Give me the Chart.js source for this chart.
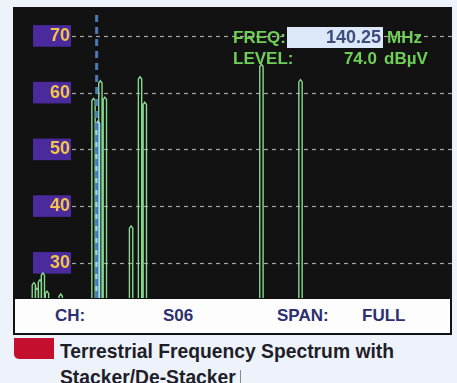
<!DOCTYPE html>
<html>
<head>
<meta charset="utf-8">
<script src="https://cdn.jsdelivr.net/npm/chart.js@4.4.1/dist/chart.umd.min.js"></script>
<style>
  body { margin: 0; width: 457px; height: 383px; overflow: hidden; background: #eef2fb;
         font-family: "Liberation Sans", Arial, sans-serif; position: relative; }
  #screen { position: absolute; left: 13px; top: 7px; width: 439px; height: 328px; background: #121212; }
  #spec { position: absolute; left: 13px; top: 7px; }
  .t { position: absolute; font-weight: bold; white-space: nowrap; }
  .g { color: #6fcf58; font-size: 17px; }
  #bar { position: absolute; left: 15px; top: 299px; width: 435px; height: 34px; background: #fdfdfd; }
  #bar .t { color: #2d2f70; font-size: 17px; line-height: 34px; top: 0; }
  #freqBox { position: absolute; left: 287px; top: 27px; width: 96px; height: 21px; background: #dce7f8; }
  #red { position: absolute; left: 14px; top: 338px; width: 40px; height: 21px; background: #c50f2f;
         border-bottom-left-radius: 5px; }
  #cap { position: absolute; left: 60px; top: 339px; font-size: 19.3px; line-height: 26px; font-weight: bold; color: #1e1e28; }
  #caret { display: inline-block; width: 0; height: 17px; border-left: 1px solid #8a8a8a; margin-left: 4px; vertical-align: -3px; }
</style>
</head>
<body>
<div id="screen"></div>
<canvas id="spec" width="439" height="291"></canvas>

<div id="freqBox"></div>
<div class="t g" style="left:233px; top:27px; line-height:21px;">FREQ:</div>
<div class="t" style="left:287px; top:27px; width:94px; text-align:right; line-height:21px; font-size:18px; color:#3e4d7b;">140.25</div>
<div class="t g" style="left:387px; top:27px; line-height:21px;">MHz</div>
<div class="t g" style="left:233px; top:49px; line-height:19px;">LEVEL:</div>
<div class="t g" style="left:300px; top:49px; width:77px; text-align:right; line-height:19px;">74.0</div>
<div class="t g" style="left:384px; top:49px; line-height:19px;">dBµV</div>

<div id="bar">
  <div class="t" style="left:40px;">CH:</div>
  <div class="t" style="left:148px;">S06</div>
  <div class="t" style="left:262px;">SPAN:</div>
  <div class="t" style="left:347px;">FULL</div>
</div>

<div id="red"></div>
<div id="cap">Terrestrial Frequency Spectrum with<br>Stacker/De-Stacker<span id="caret"></span></div>

<script>
// spectrum (MHz, dBµV)
const peakFreq  = [35, 40, 45, 50, 57, 80, 135, 146.5, 154, 198, 213, 221, 416.5, 482];
const peakLevel = [26.5, 25.5, 27, 28.2, 25, 24.5, 59, 62.1, 59.2, 36.5, 62.8, 58.3, 65, 62.3];
const cyanFreq  = [142.5];
const cyanLevel = [55];
const cursorFreq = 140.25;
const cursorTop = 73.7;
const noiseFloor = 18;
const yTicks = [30, 40, 50, 60, 70];
const xMin = 0, xMax = 736, yMin = 23.8, yMax = 75.1;

const halfW = 2.8;
function peakPoints(freqs, levels) {
  const pts = [];
  freqs.forEach((f, i) => {
    pts.push({x: f - halfW, y: noiseFloor});
    pts.push({x: f - halfW, y: levels[i] - 0.4});
    pts.push({x: f, y: levels[i]});
    pts.push({x: f + halfW, y: levels[i] - 0.4});
    pts.push({x: f + halfW, y: noiseFloor});
  });
  return pts;
}

const gridFromBox = {
  id: 'gridFromBox',
  beforeDatasetsDraw(chart) {
    const {ctx, chartArea, scales: {y}} = chart;
    ctx.save();
    ctx.setLineDash([4, 4]);
    ctx.strokeStyle = '#a5a5a5';
    ctx.lineWidth = 1.2;
    yTicks.forEach(v => {
      const py = Math.round(y.getPixelForValue(v)) + 0.5;
      ctx.beginPath();
      ctx.moveTo(59, py);
      ctx.lineTo(chartArea.right, py);
      ctx.stroke();
    });
    ctx.restore();
  }
};

new Chart(document.getElementById('spec'), {
  type: 'line',
  data: {
    datasets: [{
      label: 'Cursor',
      data: [{x: cursorFreq, y: cursorTop}, {x: cursorFreq, y: noiseFloor}],
      borderColor: '#4a79b8',
      borderWidth: 3,
      borderDash: [7, 5],
      pointRadius: 0
    }, {
      label: 'Carrier',
      data: peakPoints(cyanFreq, cyanLevel),
      borderColor: '#a6dcef',
      backgroundColor: 'rgba(120,195,225,0.85)',
      fill: 'start',
      borderWidth: 1.3,
      pointRadius: 0
    }, {
      label: 'Spectrum',
      data: peakPoints(peakFreq, peakLevel),
      borderColor: '#86d98f',
      borderWidth: 1.4,
      pointRadius: 0,
      fill: false
    }]
  },
  options: {
    responsive: false,
    animation: false,
    devicePixelRatio: 1,
    layout: { padding: 0 },
    plugins: { legend: { display: false }, tooltip: { enabled: false } },
    scales: {
      x: { type: 'linear', min: xMin, max: xMax, display: false },
      y: {
        min: yMin, max: yMax,
        afterBuildTicks: s => { s.ticks = yTicks.map(v => ({value: v})); },
        afterFit: s => { s.width = 0; s.paddingTop = 0; s.paddingBottom = 0; },
        grid: { display: false, drawTicks: false },
        border: { display: false },
        ticks: {
          mirror: true,
          padding: 37,
          color: '#f2c44c',
          font: { family: 'Liberation Sans', size: 18, weight: 'bold' },
          showLabelBackdrop: true,
          backdropColor: '#4a2a9c',
          backdropPadding: { left: 17, right: 1, top: 0, bottom: 0 }
        }
      }
    }
  },
  plugins: [gridFromBox]
});
</script>
</body>
</html>
